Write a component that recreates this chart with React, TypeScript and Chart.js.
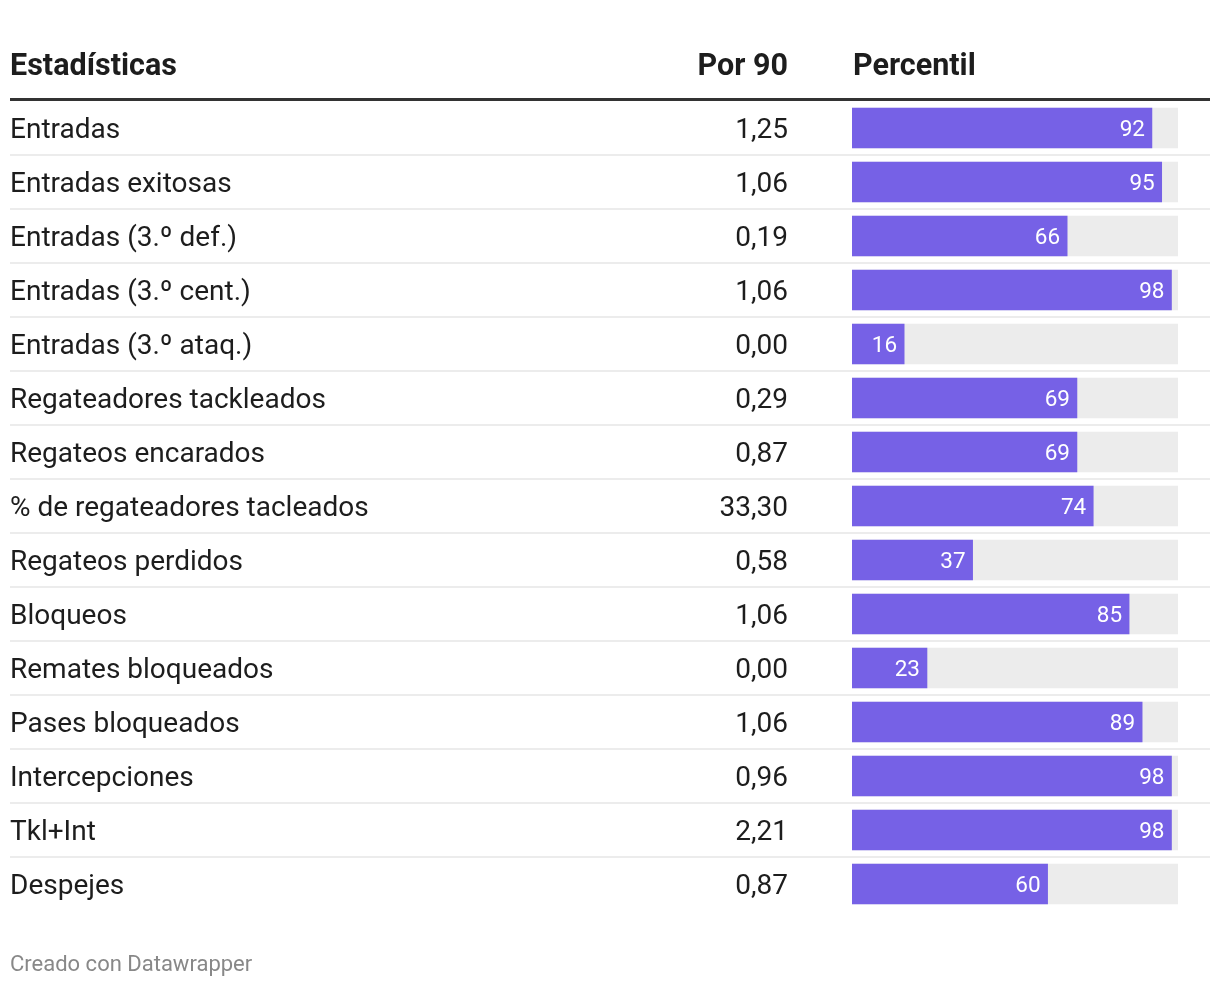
import React, { useEffect, useRef } from "react";
import { Chart, registerables } from "chart.js";

Chart.register(...registerables);

const headers = ["Estadísticas", "Por 90", "Percentil"];
const stats = [
  "Entradas",
  "Entradas exitosas",
  "Entradas (3.º def.)",
  "Entradas (3.º cent.)",
  "Entradas (3.º ataq.)",
  "Regateadores tackleados",
  "Regateos encarados",
  "% de regateadores tacleados",
  "Regateos perdidos",
  "Bloqueos",
  "Remates bloqueados",
  "Pases bloqueados",
  "Intercepciones",
  "Tkl+Int",
  "Despejes",
];
const per90 = [1.25, 1.06, 0.19, 1.06, 0.0, 0.29, 0.87, 33.3, 0.58, 1.06, 0.0, 1.06, 0.96, 2.21, 0.87];
const percentiles = [92, 95, 66, 98, 16, 69, 69, 74, 37, 85, 23, 89, 98, 98, 60];
const percentileMax = 100;
const footer = "Creado con Datawrapper";

const W = 1220;
const H = 986;
const FONT = "Roboto, 'Noto Sans', sans-serif";
const TEXT = "#1d1d1d";
const PURPLE = "#7661e6";
const TRACK = "#ececec";

const fmt = (v: number) => v.toFixed(2).replace(".", ",");

const tablePlugin = {
  id: "tablePlugin",
  beforeDatasetsDraw(chart: any) {
    const ctx = chart.ctx;
    const y = chart.scales.y;
    const area = chart.chartArea;
    ctx.save();
    ctx.fillStyle = "#333333";
    ctx.fillRect(10, area.top - 3, 1200, 3);
    ctx.fillStyle = "#ececec";
    for (let i = 0; i < stats.length - 1; i++) {
      const yb = (y.getPixelForValue(i) + y.getPixelForValue(i + 1)) / 2;
      ctx.fillRect(10, yb - 1, 1200, 2);
    }
    ctx.restore();
  },
  afterDatasetsDraw(chart: any) {
    const ctx = chart.ctx;
    const y = chart.scales.y;
    const x = chart.scales.x;
    const area = chart.chartArea;
    ctx.save();
    ctx.fillStyle = TEXT;
    ctx.textBaseline = "middle";
    ctx.font = `bold 30.5px ${FONT}`;
    ctx.textAlign = "left";
    ctx.fillText(headers[0], 10, 67);
    ctx.textAlign = "right";
    ctx.fillText(headers[1], 788, 67);
    ctx.textAlign = "left";
    ctx.fillText(headers[2], area.left + 1, 67);
    for (let i = 0; i < stats.length; i++) {
      const cy = y.getPixelForValue(i) + 3;
      ctx.fillStyle = TEXT;
      ctx.font = `28px ${FONT}`;
      ctx.textAlign = "left";
      ctx.fillText(stats[i], 10, cy);
      ctx.textAlign = "right";
      ctx.fillText(fmt(per90[i]), 788, cy);
      ctx.fillStyle = "#ffffff";
      ctx.font = `22.5px ${FONT}`;
      ctx.fillText(String(percentiles[i]), x.getPixelForValue(percentiles[i]) - 7, cy - 1);
    }
    ctx.fillStyle = "#888888";
    ctx.font = `22px ${FONT}`;
    ctx.textAlign = "left";
    ctx.fillText(footer, 10, 965);
    ctx.restore();
  },
};

export default function App() {
  const ref = useRef<HTMLCanvasElement | null>(null);
  useEffect(() => {
    if (!ref.current) return;
    const chart = new Chart(ref.current, {
      type: "bar",
      data: {
        labels: stats,
        datasets: [
          {
            label: "Percentil",
            data: percentiles,
            backgroundColor: PURPLE,
            barThickness: 40,
            order: 1,
            grouped: false,
          } as any,
          {
            label: "Máximo",
            data: stats.map(() => percentileMax),
            backgroundColor: TRACK,
            barThickness: 40,
            order: 2,
            grouped: false,
          } as any,
        ],
      },
      options: {
        indexAxis: "y",
        animation: false,
        responsive: false,
        devicePixelRatio: 1,
        layout: { padding: { left: 852, right: 42, top: 101, bottom: 75 } },
        plugins: { legend: { display: false }, tooltip: { enabled: false } },
        scales: {
          x: { display: false, min: 0, max: 100 },
          y: { display: false },
        },
      },
      plugins: [tablePlugin],
    });
    return () => chart.destroy();
  }, []);
  return (
    <div style={{ position: "absolute", left: 0, top: 0, width: W, height: H, background: "#fff" }}>
      <canvas ref={ref} width={W} height={H} style={{ width: W, height: H, display: "block" }} />
    </div>
  );
}
